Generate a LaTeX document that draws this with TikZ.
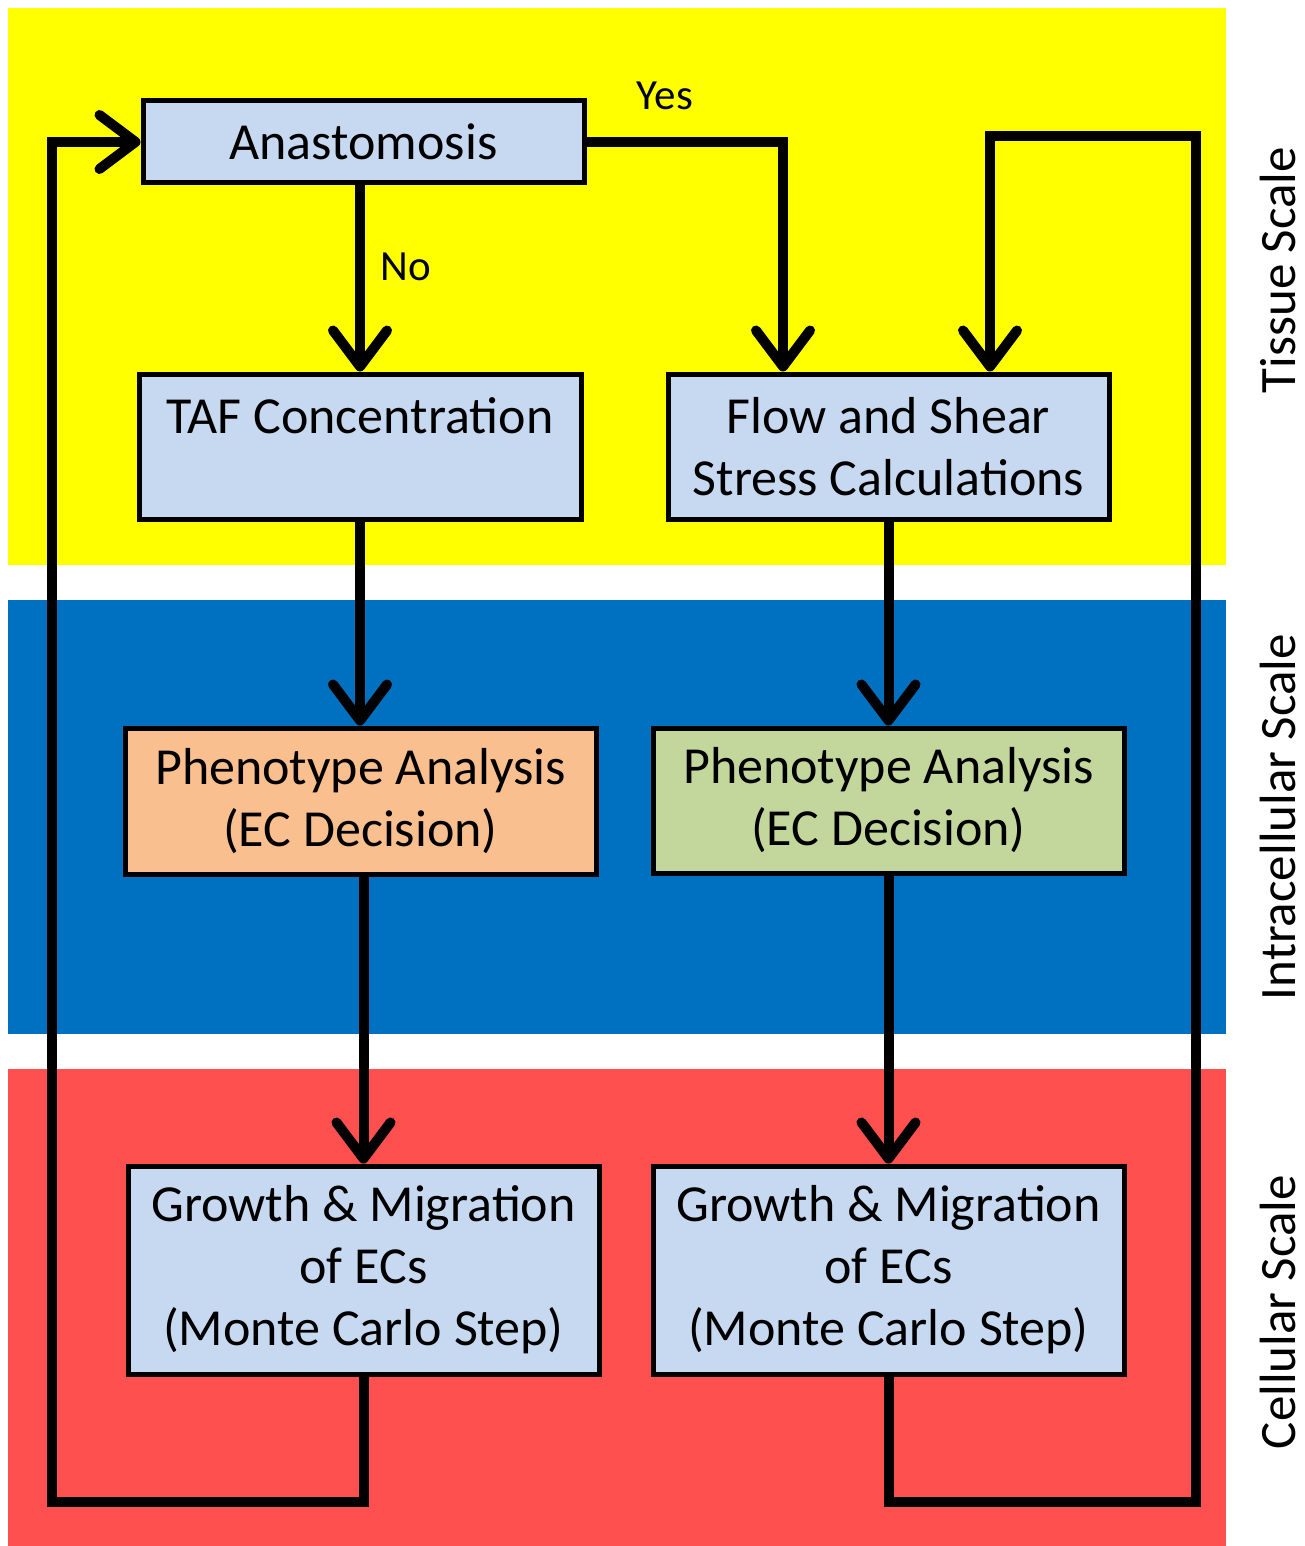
\documentclass[tikz,border=0pt]{standalone}
\usepackage{fontspec}
\setmainfont{Carlito}
\usetikzlibrary{arrows.meta}
\definecolor{bandY}{HTML}{FFFF00}
\definecolor{bandB}{HTML}{0070C0}
\definecolor{bandR}{HTML}{FF5050}
\definecolor{boxB}{HTML}{C6D9F1}
\definecolor{boxO}{HTML}{F9BF8F}
\definecolor{boxG}{HTML}{C3D69B}
\tikzset{
  box/.style={draw=black, line width=5pt, fill=boxB, inner sep=0pt, align=center,
    font=\fontsize{52}{62}\selectfont},
  conn/.style={line width=10pt, line join=miter},
  arr/.style={conn, -{Straight Barb[length=36pt, width=54pt, round]}},
  lbl/.style={font=\fontsize{43}{50}\selectfont, inner sep=0pt},
  side/.style={font=\fontsize{51}{62}\selectfont, rotate=90, inner sep=0pt}
}
\begin{document}
\begin{tikzpicture}[x=1pt, y=-1pt]
\useasboundingbox (0,0) rectangle (1304,1546);
\fill[white] (0,0) rectangle (1304,1546);
\fill[bandY] (8,8) rectangle (1226,565);
\fill[bandB] (8,600) rectangle (1226,1034);
\fill[bandR] (8,1069) rectangle (1226,1546);

\node[box, minimum width=441pt, minimum height=82pt] (anast) at (363.5,142) {Anastomosis};
\node[box, minimum width=442pt, minimum height=145pt] (taf) at (360,446.5) {TAF Concentration\\\vphantom{Stress Calculations}};
\node[box, minimum width=441pt, minimum height=145pt] (flow) at (888.5,446.5) {Flow and Shear\\Stress Calculations};
\node[box, fill=boxO, minimum width=471pt, minimum height=146pt] (phl) at (360.5,801) {Phenotype Analysis\\(EC Decision)};
\node[box, fill=boxG, minimum width=471pt, minimum height=145pt] (phr) at (888.5,800.5) {Phenotype Analysis\\(EC Decision)};
\node[box, minimum width=471pt, minimum height=208pt] (grl) at (363.5,1270) {Growth \& Migration\\of ECs\\(Monte Carlo Step)};
\node[box, minimum width=471pt, minimum height=208pt] (grr) at (888.5,1270) {Growth \& Migration\\of ECs\\(Monte Carlo Step)};

\node[lbl] (no) at (406,267) {No};
\node[lbl] (yes) at (665,96) {Yes};

\node[side] (tissue) at (1278,270) {Tissue Scale};
\node[side] (intra) at (1278,817) {Intracellular Scale};
\node[side] (cell) at (1278,1312) {Cellular Scale};

\coordinate (lb) at (52,1502);
\coordinate (rb) at (1196,1502);
\coordinate (rt) at (1196,136);

\draw[arr] (taf.north |- anast.south) -- (taf.north);
\draw[arr] (anast.east) -| ([xshift=-105.5pt]flow.north);
\draw[arr] (grr.south) |- (rb) -- (rt) -| ([xshift=101.5pt]flow.north);
\draw[arr] (grl.south) |- (lb) |- (anast.west);
\draw[arr] (taf.south) -- (taf.south |- phl.north);
\draw[arr] (flow.south) -- (flow.south |- phr.north);
\draw[arr] (grl.north |- phl.south) -- (grl.north);
\draw[arr] (phr.south) -- (grr.north);
\end{tikzpicture}
\end{document}
